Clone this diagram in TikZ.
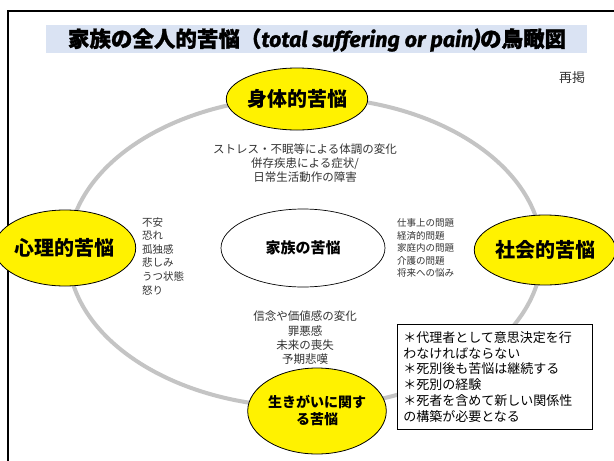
\documentclass[tikz,border=0pt]{standalone}
\usepackage{fontspec}
\setmainfont{Noto Sans CJK JP}
\newfontfamily\titlejp[BoldFeatures={FakeBold=1.2}]{Noto Sans CJK JP}
\newfontfamily\latbi[BoldItalicFeatures={FakeBold=1.2}]{Fira Sans}
\usetikzlibrary{shapes.geometric}
\definecolor{bandblue}{HTML}{DAE3F3}
\definecolor{ringgray}{HTML}{C4C4C4}
\definecolor{txtgray}{HTML}{333333}
\tikzset{
  bigoval/.style={ellipse, draw=black, line width=0.8pt, fill=yellow, inner sep=0pt, font=\fontsize{20}{22}\selectfont\bfseries},
  listtxt/.style={text=txtgray, inner sep=0pt},
}
\begin{document}
\begin{tikzpicture}[x=1pt,y=-1pt]
\useasboundingbox (0,0) rectangle (614,461);
\clip (0,0) rectangle (614,461);
\fill[white] (0,0) rectangle (614,461);
% frame
\draw[line width=2.5pt] (8,11) rectangle (640,490);
% title band
\fill[bandblue] (46,25) rectangle (587,53);
\node[inner sep=0pt] (title) at (317,40) {\fontsize{21.5}{23}\selectfont\titlejp\bfseries 家族の全人的苦悩（{\latbi\bfseries\itshape total suffering or pain)}の鳥瞰図};
\node[text=txtgray, inner sep=0pt] (saikei) at (572,78) {\fontsize{13}{15}\selectfont 再掲};
% ring
\draw[ringgray, line width=4pt] (305,252) ellipse [x radius=237, y radius=155];
% ovals
\node[bigoval, minimum width=140pt, minimum height=62pt] (phys) at (297,99) {身体的苦悩};
\node[bigoval, minimum width=114pt, minimum height=76pt] (psych) at (65,248) {心理的苦悩};
\node[bigoval, minimum width=116pt, minimum height=70pt] (soc) at (545,250) {社会的苦悩};
\node[bigoval, minimum width=134pt, minimum height=86pt, align=center, font=\fontsize{14}{17}\selectfont\bfseries] (spirit) at (317,411) {生きがいに関す\\る苦悩};
\node[ellipse, draw=black, line width=0.7pt, fill=white, minimum width=164pt, minimum height=78pt, inner sep=0pt, font=\fontsize{15}{17}\selectfont\bfseries] (family) at (303,248) {家族の苦悩};
% lists
\node[listtxt, align=center, font=\fontsize{11.5}{14}\selectfont] (physlist) at (305,163) {ストレス・不眠等による体調の変化\\併存疾患による症状/\\日常生活動作の障害};
\node[listtxt, align=left, anchor=west, font=\fontsize{10.5}{13.6}\selectfont] (psychlist) at (142,256) {不安\\恐れ\\孤独感\\悲しみ\\うつ状態\\怒り};
\node[listtxt, align=left, anchor=west, font=\fontsize{9.5}{12.5}\selectfont] (soclist) at (397,248) {仕事上の問題\\経済的問題\\家庭内の問題\\介護の問題\\将来への悩み};
\node[listtxt, align=center, font=\fontsize{11.5}{14.3}\selectfont] (spiritlist) at (305,338) {信念や価値感の変化\\罪悪感\\未来の喪失\\予期悲嘆};
% box
\node[draw=black, line width=0.7pt, fill=white, inner xsep=6pt, inner ysep=5pt, align=left, anchor=north west, minimum width=195pt, minimum height=105pt, text width=183pt, font=\fontsize{13}{15.8}\selectfont] (note) at (397,324) {＊代理者として意思決定を行\\わなければならない\\＊死別後も苦悩は継続する\\＊死別の経験\\＊死者を含めて新しい関係性\\の構築が必要となる};
\end{tikzpicture}
\end{document}
